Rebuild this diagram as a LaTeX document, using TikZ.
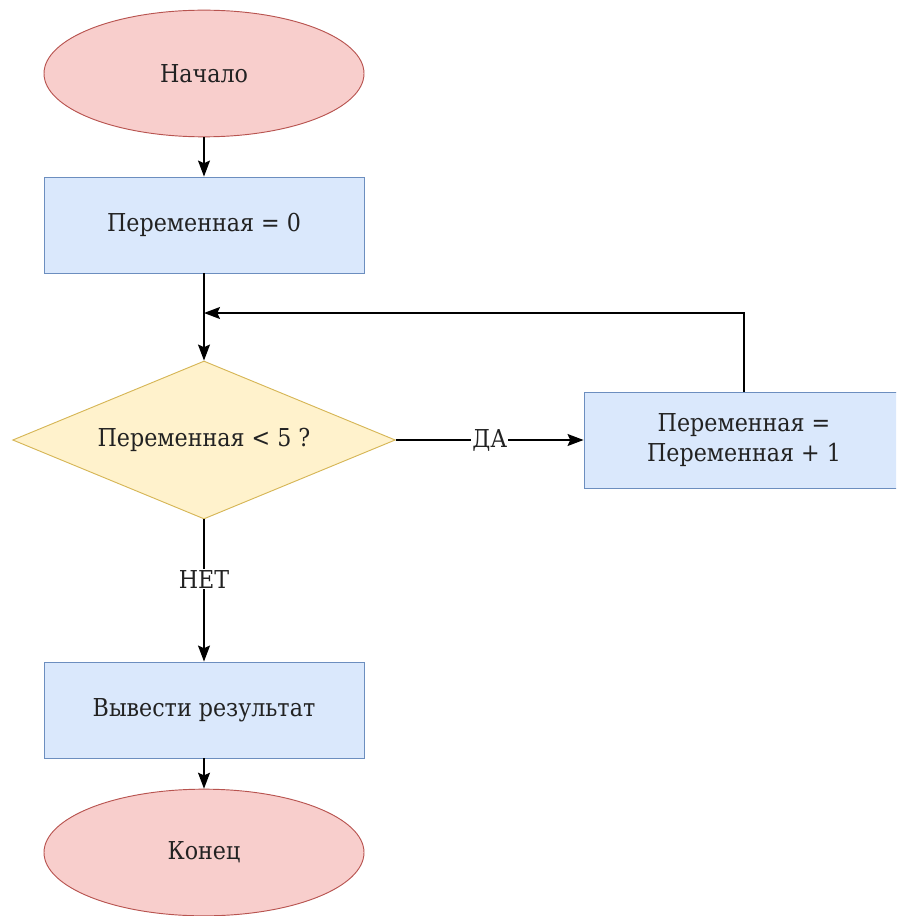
\documentclass[tikz,border=0pt]{standalone}
\usepackage{fontspec}
\setmainfont{DejaVu Serif Condensed}
\usetikzlibrary{shapes.geometric,arrows.meta}
\definecolor{termfill}{HTML}{F8CECC}
\definecolor{termline}{HTML}{B85450}
\definecolor{procfill}{HTML}{DAE8FC}
\definecolor{procline}{HTML}{6C8EBF}
\definecolor{decfill}{HTML}{FFF2CC}
\definecolor{decline}{HTML}{D6B656}
\definecolor{txt}{HTML}{222222}
\begin{document}
\begin{tikzpicture}[x=0.75pt,y=-0.75pt,
  every node/.style={font=\rmfamily\fontsize{18.5}{23}\selectfont, text=txt},
  term/.style={ellipse, draw=termline, fill=termfill, line width=0.7pt, minimum width=240pt, minimum height=95pt, inner sep=0pt},
  proc/.style={rectangle, draw=procline, fill=procfill, line width=0.7pt, minimum width=240pt, minimum height=72pt, inner sep=0pt, align=center},
  dec/.style={diamond, draw=decline, fill=decfill, line width=0.7pt, shape aspect=2.42, minimum width=287pt, minimum height=118.5pt, inner sep=0pt},
  arr/.style={draw=black, line width=1pt, -{Stealth[length=12pt,width=9pt,inset=2pt]}},
  lbl/.style={fill=white, inner sep=1pt}]
\clip (0,0) rectangle (896,916);
\node[term] (start) at (204,73.5) {Начало};
\node[proc] (r1) at (204,225) {Переменная = 0};
\node[dec] (dec) at (204,440) {Переменная < 5 ?};
\node[proc] (r2) at (744,440) {Переменная =\\Переменная + 1};
\node[proc] (r3) at (204,710) {Вывести результат};
\node[term] (end) at (204,852.5) {Конец};
\coordinate (j) at (204,313);
\draw[arr] (start) -- (r1);
\draw[arr] (r1) -- (dec);
\draw[arr] (r2.north) |- (j);
\draw[arr] (dec.east) -- node[lbl] {ДА} (r2.west);
\draw[arr] (dec.south) -- node[lbl, pos=0.42] {НЕТ} (r3.north);
\draw[arr] (r3) -- (end);
\end{tikzpicture}
\end{document}
